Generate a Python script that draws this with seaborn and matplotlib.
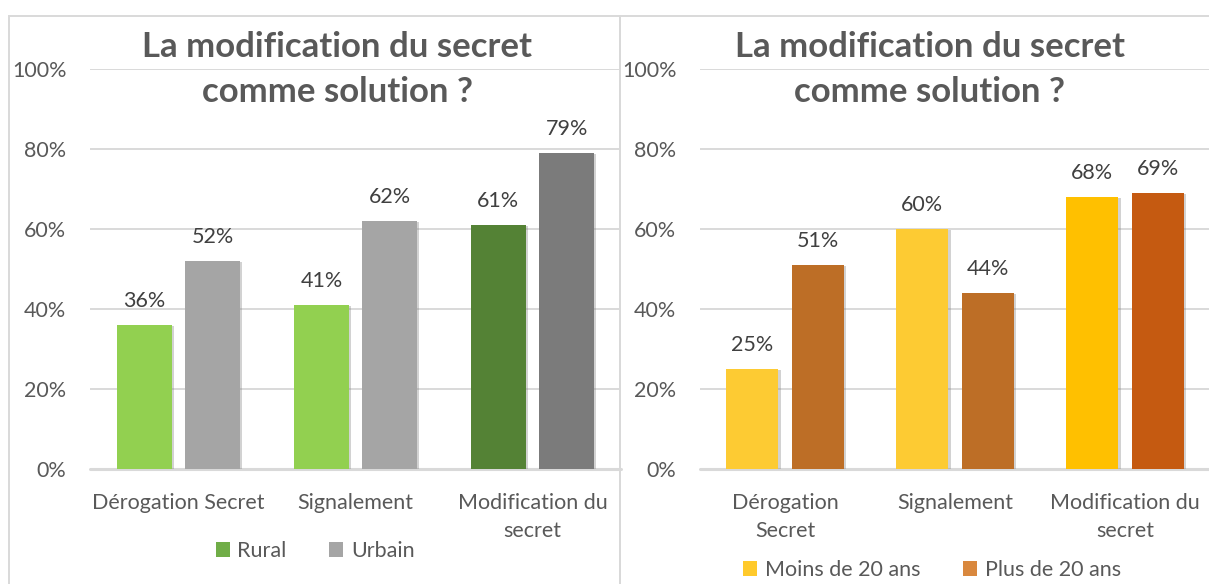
import matplotlib
matplotlib.use("Agg")
import matplotlib.pyplot as plt
import matplotlib.patheffects as pe
from matplotlib.patches import Rectangle, Patch
import pandas as pd
import seaborn as sns

# données
cats_left = ["Dérogation Secret", "Signalement", "Modification du\nsecret"]
cats_right = ["Dérogation\nSecret", "Signalement", "Modification du\nsecret"]
rural = [36, 41, 61]
urbain = [52, 62, 79]
moins_20 = [25, 60, 68]
plus_20 = [51, 44, 69]
y_ticks = [0, 20, 40, 60, 80, 100]
title_lines = ["La modification du secret", "comme solution ?"]

sns.set_theme(style="white")
plt.rcParams['font.family'] = ['Lato', 'DejaVu Sans']

W, H = 1209, 584
fig = plt.figure(figsize=(W / 100, H / 100), dpi=100)

def fx(px):
    return px / W

def fy(py):
    return 1 - py / H

GRID = "#D9D9D9"
TXT = "#595959"
FS = 15.5

def make_panel(ax_box, cats, names, vals, bar_colors, leg_colors, title_x, leg_x, leg_y):
    ax = fig.add_axes(ax_box)
    df = pd.DataFrame({
        "cat": cats * 2,
        "val": vals[0] + vals[1],
        "grp": [names[0]] * 3 + [names[1]] * 3,
    })
    sns.barplot(data=df, x="cat", y="val", hue="grp", ax=ax, width=0.77, gap=0.2,
                legend=False, palette=leg_colors, saturation=1, zorder=3)
    shadow = [pe.SimplePatchShadow(offset=(1.5, -1), shadow_rgbFace="#808080", alpha=0.35), pe.Normal()]
    for i, cont in enumerate(ax.containers):
        for j, bar in enumerate(cont):
            bar.set_facecolor(bar_colors[i][j])
            bar.set_edgecolor("none")
            bar.set_path_effects(shadow)
        ax.bar_label(cont, labels=[f"{v}%" for v in vals[i]], padding=10,
                     fontsize=FS, color="#404040")
    ax.set_ylim(0, 100)
    ax.set_xlim(-0.5, 2.5)
    ax.set_yticks(y_ticks)
    ax.set_yticklabels([f"{t}%" for t in y_ticks])
    ax.set_xlabel("")
    ax.set_ylabel("")
    for s in ax.spines.values():
        s.set_visible(False)
    ax.grid(axis="y", color=GRID, lw=1.4, zorder=0)
    ax.axhline(0, color=GRID, lw=2.2, zorder=2, clip_on=False)
    ax.tick_params(axis="y", length=0, pad=17, labelsize=FS, labelcolor=TXT)
    ax.tick_params(axis="x", length=0, pad=17, labelsize=FS, labelcolor=TXT)
    for lab in ax.get_xticklabels():
        lab.set_linespacing(1.5)
    fig.text(fx(title_x), fy(57), title_lines[0], ha="center", va="baseline",
             fontsize=25, fontweight="bold", color=TXT)
    fig.text(fx(title_x), fy(102), title_lines[1], ha="center", va="baseline",
             fontsize=25, fontweight="bold", color=TXT)
    handles = [Patch(facecolor=c, edgecolor="none", label=n) for c, n in zip(leg_colors, names)]
    fig.legend(handles=handles, loc="center", bbox_to_anchor=(fx(leg_x), fy(leg_y)), ncol=2,
               frameon=False, fontsize=FS, labelcolor=TXT, handlelength=0.65, handleheight=0.65,
               handletextpad=0.35, columnspacing=2.0, borderaxespad=0)
    return ax

# panneau gauche : Rural / Urbain
make_panel([fx(90), fy(469), fx(621 - 90), 400 / H], cats_left, ["Rural", "Urbain"],
           [rural, urbain],
           [["#92D050", "#92D050", "#548235"], ["#A5A5A5", "#A5A5A5", "#7B7B7B"]],
           ["#70AD47", "#A5A5A5"], 337, 315, 551)

# panneau droit : âge
make_panel([fx(700), fy(469), fx(1210 - 700), 400 / H], cats_right, ["Moins de 20 ans", "Plus de 20 ans"],
           [moins_20, plus_20],
           [["#FDCB33", "#FDCB33", "#FFC000"], ["#BD6E26", "#BD6E26", "#C55A11"]],
           ["#FFCA2C", "#D9883E"], 930, 932, 570)

# cadres des deux graphiques
fig.add_artist(Rectangle((fx(9), -0.02), fx(620 - 9), fy(16) + 0.02, transform=fig.transFigure,
                         fill=False, edgecolor=GRID, lw=1.4))
fig.add_artist(Rectangle((fx(620), -0.02), fx(1220 - 620), fy(16) + 0.02, transform=fig.transFigure,
                         fill=False, edgecolor=GRID, lw=1.4))

fig.savefig("out.png", dpi=100, facecolor="white")
